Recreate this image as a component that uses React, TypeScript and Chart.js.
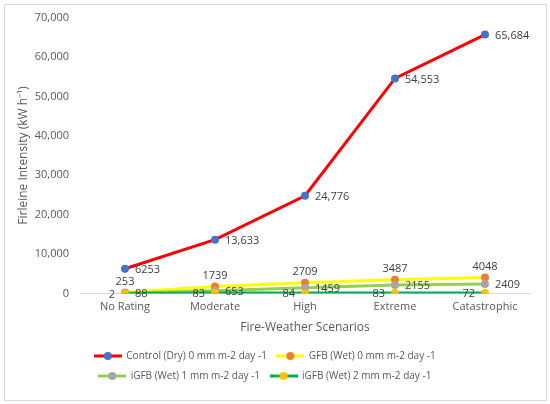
import React, { useEffect, useRef } from "react";
import { Chart, registerables } from "chart.js";

Chart.register(...registerables);

const categories = ["No Rating", "Moderate", "High", "Extreme", "Catastrophic"];
const controlDry = [6253, 13633, 24776, 54553, 65684];
const gfbWet0 = [253, 1739, 2709, 3487, 4048];
const igfbWet1 = [88, 653, 1459, 2155, 2409];
const igfbWet2 = [2, 83, 84, 83, 72];
const seriesNames = [
  "Control (Dry) 0 mm m-2 day -1",
  "GFB (Wet) 0 mm m-2 day -1",
  "iGFB (Wet) 1 mm m-2 day -1",
  "iGFB (Wet) 2 mm m-2 day -1",
];
const lineColors = ["#FF0000", "#FFFF00", "#92D050", "#00B050"];
const pointColors = ["#4472C4", "#ED7D31", "#A5A5A5", "#FFC000"];
const labelPositions = ["right", "above", "right", "left"];
const yTickMax = 70000;
const yTickStep = 10000;

const FONT = "'Open Sans', sans-serif";

function fmt(v: number): string {
  return v >= 10000 ? v.toLocaleString("en-US") : String(v);
}

function makeLegendIcon(line: string, point: string): HTMLCanvasElement {
  const c = document.createElement("canvas");
  c.width = 28;
  c.height = 10;
  const ctx = c.getContext("2d")!;
  ctx.strokeStyle = line;
  ctx.lineWidth = 3;
  ctx.beginPath();
  ctx.moveTo(0, 5);
  ctx.lineTo(28, 5);
  ctx.stroke();
  ctx.fillStyle = point;
  ctx.beginPath();
  ctx.arc(14, 5, 4, 0, Math.PI * 2);
  ctx.fill();
  return c;
}

const dataLabelPlugin = {
  id: "dataLabels",
  afterDatasetsDraw(chart: any) {
    const ctx = chart.ctx;
    ctx.save();
    ctx.font = `11px ${FONT}`;
    ctx.fillStyle = "#404040";
    chart.data.datasets.forEach((ds: any, di: number) => {
      const meta = chart.getDatasetMeta(di);
      const pos = labelPositions[di];
      meta.data.forEach((pt: any, i: number) => {
        const text = fmt(ds.data[i]);
        if (pos === "right") {
          ctx.textAlign = "left";
          ctx.textBaseline = "middle";
          ctx.fillText(text, pt.x + 10, pt.y + 1);
        } else if (pos === "left") {
          ctx.textAlign = "right";
          ctx.textBaseline = "middle";
          ctx.fillText(text, pt.x - 10, pt.y + 1);
        } else {
          ctx.textAlign = "center";
          ctx.textBaseline = "middle";
          ctx.fillText(text, pt.x, pt.y - 11);
        }
      });
    });
    ctx.restore();
  },
};

export default function App() {
  const ref = useRef<HTMLCanvasElement>(null);

  useEffect(() => {
    document.body.style.margin = "0";
    const icons = lineColors.map((c, i) => makeLegendIcon(c, pointColors[i]));
    const allData = [controlDry, gfbWet0, igfbWet1, igfbWet2];
    const chart = new Chart(ref.current!, {
      type: "line",
      data: {
        labels: categories,
        datasets: allData.map((d, i) => ({
          label: seriesNames[i],
          data: d,
          borderColor: lineColors[i],
          backgroundColor: pointColors[i],
          pointBackgroundColor: pointColors[i],
          pointBorderColor: pointColors[i],
          pointBorderWidth: 0,
          pointRadius: 4,
          borderWidth: 3,
          tension: 0,
          fill: false,
          order: 3 - i,
        })),
      },
      options: {
        animation: false,
        responsive: false,
        maintainAspectRatio: false,
        layout: { padding: { top: 17, right: 20, left: 0, bottom: 13 } },
        scales: {
          x: {
            offset: true,
            grid: { display: false, drawTicks: false },
            border: { display: true, color: "#D9D9D9", width: 1 },
            ticks: {
              padding: 7,
              color: "#595959",
              font: { family: FONT, size: 11 },
              maxRotation: 0,
            },
            title: {
              display: true,
              text: "Fire-Weather Scenarios",
              color: "#595959",
              font: { family: FONT, size: 12 },
              padding: { top: 0, bottom: 6 },
            },
          },
          y: {
            min: 0,
            max: yTickMax,
            grid: { display: false, drawTicks: false },
            border: { display: false },
            ticks: {
              stepSize: yTickStep,
              padding: 11,
              color: "#595959",
              font: { family: FONT, size: 11 },
              callback: (v: any) => Number(v).toLocaleString("en-US"),
            },
            title: {
              display: true,
              text: "Firleine Intensity (kW h\u207B\u00B9)",
              color: "#595959",
              font: { family: FONT, size: 12 },
              padding: { top: 16, bottom: 0 },
            },
            afterFit: (s: any) => {
              s.width = 80;
            },
          },
        },
        plugins: {
          tooltip: { enabled: false },
          legend: {
            position: "bottom",
            labels: {
              usePointStyle: true,
              pointStyleWidth: 27,
              padding: 10,
              color: "#595959",
              font: { family: FONT, size: 10 },
              sort: (a: any, b: any) => a.datasetIndex - b.datasetIndex,
              generateLabels: (ch: any) => {
                const items = Chart.defaults.plugins.legend.labels.generateLabels(ch);
                return items.map((it: any) => ({
                  ...it,
                  pointStyle: icons[it.datasetIndex],
                  lineWidth: 0,
                }));
              },
            },
          },
        },
      },
      plugins: [dataLabelPlugin],
    } as any);
    return () => chart.destroy();
  }, []);

  return (
    <div style={{ position: "relative", width: 550, height: 404, background: "#fff" }}>
      <canvas ref={ref} width={550} height={404} style={{ display: "block" }} />
      <div
        style={{
          position: "absolute",
          left: 4,
          top: 4,
          width: 541,
          height: 395,
          border: "1px solid #D9D9D9",
          pointerEvents: "none",
        }}
      />
    </div>
  );
}
